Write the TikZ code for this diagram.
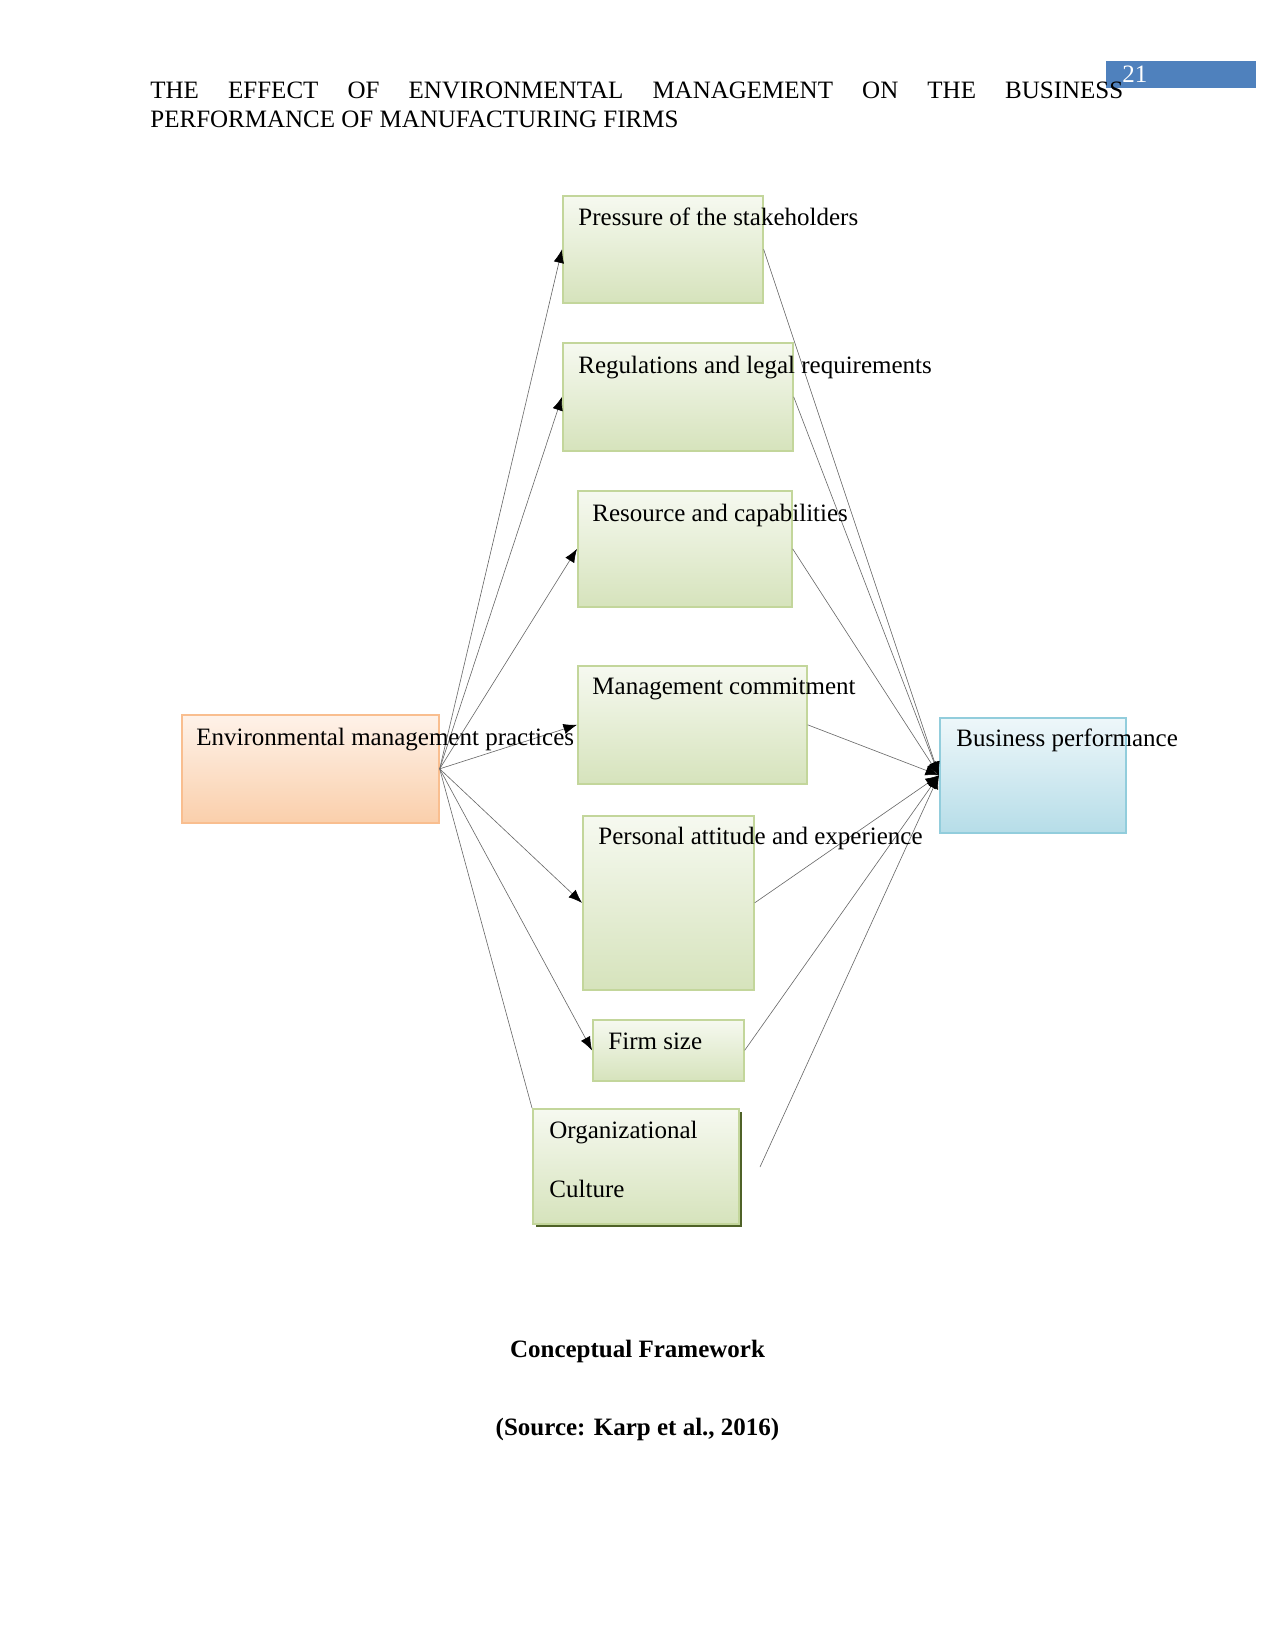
\documentclass[tikz,border=0pt]{standalone}
\usepackage{fontspec}
\setmainfont{Liberation Serif}
\usetikzlibrary{arrows.meta}
\definecolor{gtop}{RGB}{246,249,240}
\definecolor{gbot}{RGB}{214,227,188}
\definecolor{gborder}{RGB}{195,214,155}
\definecolor{otop}{RGB}{254,242,233}
\definecolor{obot}{RGB}{250,207,171}
\definecolor{oborder}{RGB}{249,190,143}
\definecolor{btop}{RGB}{238,247,250}
\definecolor{bbot}{RGB}{182,221,232}
\definecolor{bborder}{RGB}{146,205,220}
\definecolor{shadowc}{RGB}{79,98,40}
\definecolor{pagenum}{RGB}{79,129,189}
\definecolor{linec}{RGB}{105,105,105}
\begin{document}
\begin{tikzpicture}[x=0.48pt,y=-0.48pt,
  box/.style={draw=gborder,line width=0.8pt,top color=gtop,bottom color=gbot,inner sep=0pt,anchor=north west},
  lbl/.style={anchor=base west,inner sep=0pt,font=\fontsize{12}{14}\selectfont},
  conn/.style={draw=linec,line width=0.3pt},
  arr/.style={conn,-{Latex[length=6.5pt,width=5pt,color=black]}}]
\useasboundingbox (0,0) rectangle (1275,1651);
% header
\node[fill=pagenum,inner sep=0pt,anchor=north west,minimum width=150*0.48pt,minimum height=27*0.48pt] (pn) at (1106,61) {};
\node[lbl,text=white] (pnt) at (1122,83) {21};
\node[lbl] (h1) at (150,99) {\hbox to 467pt{THE\hfill EFFECT\hfill OF\hfill ENVIRONMENTAL\hfill MANAGEMENT\hfill ON\hfill THE\hfill BUSINESS}};
\node[lbl] (h2) at (150,128) {PERFORMANCE OF MANUFACTURING FIRMS};
% boxes
\node[box,draw=oborder,top color=otop,bottom color=obot,minimum width=257*0.48pt,minimum height=108*0.48pt] (env) at (181,714) {};
\node[box,minimum width=200*0.48pt,minimum height=107*0.48pt] (press) at (562,195) {};
\node[box,minimum width=230*0.48pt,minimum height=108*0.48pt] (reg) at (562,342) {};
\node[box,minimum width=214*0.48pt,minimum height=116*0.48pt] (res) at (577,490) {};
\node[box,minimum width=229*0.48pt,minimum height=118*0.48pt] (mgmt) at (577,665) {};
\node[box,minimum width=171*0.48pt,minimum height=174*0.48pt] (pers) at (582,815) {};
\node[box,minimum width=151*0.48pt,minimum height=61*0.48pt] (firm) at (592,1019) {};
\node[fill=shadowc,inner sep=0pt,anchor=north west,minimum width=206*0.48pt,minimum height=115*0.48pt] (orgsh) at (536,1112) {};
\node[box,minimum width=206*0.48pt,minimum height=115*0.48pt] (org) at (532,1108) {};
\node[box,draw=bborder,top color=btop,bottom color=bbot,minimum width=186*0.48pt,minimum height=115*0.48pt] (bus) at (939,717) {};
\coordinate (free) at (760,1167);
% connectors
\draw[arr] (env.east) -- (press.west);
\draw[arr] (env.east) -- (reg.west);
\draw[arr] (env.east) -- (res.west);
\draw[arr] (env.east) -- (mgmt.west);
\draw[arr] (env.east) -- (pers.west);
\draw[arr] (env.east) -- (firm.west);
\draw[conn] (env.east) -- (org.north west);
\draw[arr] (press.east) -- (bus.west);
\draw[arr] (reg.east) -- (bus.west);
\draw[arr] (res.east) -- (bus.west);
\draw[arr] (mgmt.east) -- (bus.west);
\draw[arr] (pers.east) -- (bus.west);
\draw[arr] (firm.east) -- (bus.west);
\draw[arr] (free) -- (bus.west);
% labels
\node[lbl] (envt) at (196,745) {Environmental management practices};
\node[lbl] (presst) at (578,226) {Pressure of the stakeholders};
\node[lbl] (regt) at (578,373) {Regulations and legal requirements};
\node[lbl] (rest) at (592,521) {Resource and capabilities};
\node[lbl] (mgmtt) at (592,694) {Management commitment};
\node[lbl] (perst) at (598,844) {Personal attitude and experience};
\node[lbl] (firmt) at (608,1049) {Firm size};
\node[lbl] (orgt1) at (549,1138) {Organizational};
\node[lbl] (orgt2) at (549,1197) {Culture};
\node[lbl] (bust) at (956,746) {Business performance};
% caption
\node[anchor=base,inner sep=0pt,font=\fontsize{12}{14}\selectfont\bfseries] (cap1) at (637.5,1357) {Conceptual Framework};
\node[anchor=base,inner sep=0pt,font=\fontsize{12}{14}\selectfont\bfseries] (cap2) at (637.5,1435) {(Source: Karp et al., 2016)};
\end{tikzpicture}
\end{document}
